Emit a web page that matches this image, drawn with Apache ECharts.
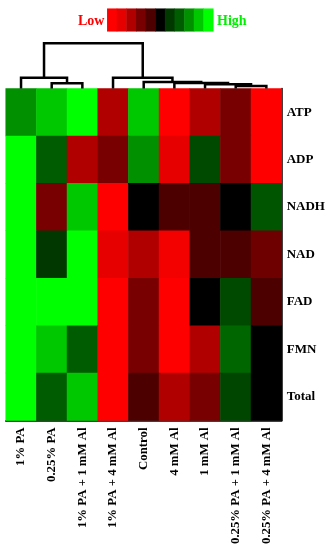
<!DOCTYPE html>
<html>
<head>
<meta charset="utf-8">
<script src="https://cdn.jsdelivr.net/npm/echarts@6/dist/echarts.min.js"></script>
<style>
  html, body { margin: 0; padding: 0; background: #fff; }
  #chart { width: 332px; height: 550px; }
</style>
</head>
<body>
<div id="chart"></div>
<script>
  const groups = ['1% PA', '0.25% PA', '1% PA + 1 mM Al', '1% PA + 4 mM Al', 'Control',
    '4 mM Al', '1 mM Al', '0.25% PA + 1 mM Al', '0.25% PA + 4 mM Al'];
  const metabolites = ['ATP', 'ADP', 'NADH', 'NAD', 'FAD', 'FMN', 'Total'];

  // relative level, -5 (low, red) .. 5 (high, green), same order as groups
  const atp   = [3, 4, 5, -3, 4, -5, -3, -2, -5];
  const adp   = [5, 2, -3, -2, 3, -4, 1.5, -2, -5];
  const nadh  = [5, -2, 4, -5, 0, -1, -1, 0, 1.8];
  const nad   = [5, 1, 5, -4, -3, -4.5, -1, -1, -1.8];
  const fad   = [5, 5, 5, -5, -2, -5, 0, 1.5, -1];
  const fmn   = [5, 4, 2, -5, -2, -5, -3, 2.2, 0];
  const total = [5, 2, 4, -5, -1, -3, -2, 1.4, 0];

  const scaleSteps = [-5, -4, -3, -2, -1, 0, 1, 2, 3, 4, 5];
  const scaleColors = ['#ff0000', '#e60000', '#b00000', '#780000', '#4c0000', '#000000',
    '#003800', '#005c00', '#009000', '#00c800', '#00ff00'];

  // column clustering: [childA, childB, height]; leaves are 0..8, merged clusters numbered from 9
  const merges = [[7, 8, 0.55], [6, 9, 0.93], [5, 10, 1.22], [4, 11, 1.44],
    [3, 12, 2.39], [1, 2, 1.15], [0, 14, 2.39], [15, 13, 10]];

  const rows = [atp, adp, nadh, nad, fad, fmn, total];
  let heatData = [];
  for (let r = 0; r < rows.length; r++) {
    for (let c = 0; c < groups.length; c++) {
      heatData.push([c, r, rows[r][c]]);
    }
  }
  let scaleData = scaleSteps.map((v, i) => [i, 0, v]);

  let nodes = groups.map((g, i) => ({x: i + 0.5, h: 0}));
  let links = [];
  merges.forEach(m => {
    const a = nodes[m[0]], b = nodes[m[1]];
    links.push([a.x, a.h, b.x, b.h, m[2]]);
    nodes.push({x: (a.x + b.x) / 2, h: m[2]});
  });

  const font = 'Liberation Serif, Times New Roman, serif';
  const myChart = echarts.init(document.getElementById('chart'));

  let option = {
    backgroundColor: '#fff',
    animation: false,
    grid: [
      {left: 5.7, top: 88.5, width: 276, height: 332},
      {left: 107.3, top: 8.7, width: 106, height: 22.6},
      {left: 5.7, top: 43.3, width: 276, height: 45.2}
    ],
    xAxis: [
      {
        type: 'category',
        data: groups,
        position: 'bottom',
        axisLine: {lineStyle: {color: '#000', width: 1.5}},
        axisTick: {length: 3, lineStyle: {color: '#000', width: 1.5}},
        axisLabel: {rotate: 90, margin: 7, color: '#000', fontSize: 12.8, fontWeight: 'bold', fontFamily: font},
        splitLine: {show: false}
      },
      {gridIndex: 1, type: 'category', data: scaleSteps, show: false},
      {gridIndex: 2, type: 'value', min: 0, max: 9, show: false}
    ],
    yAxis: [
      {
        type: 'category',
        data: metabolites,
        inverse: true,
        position: 'right',
        axisLine: {lineStyle: {color: '#000', width: 1.5}},
        axisTick: {length: 3, lineStyle: {color: '#000', width: 1.5}},
        axisLabel: {margin: 5, color: '#000', fontSize: 13, fontWeight: 'bold', fontFamily: font},
        splitLine: {show: false}
      },
      {gridIndex: 1, type: 'category', data: [''], show: false},
      {gridIndex: 2, type: 'value', min: 0, max: 10, show: false}
    ],
    visualMap: {
      show: false,
      type: 'continuous',
      min: -5,
      max: 5,
      seriesIndex: [0, 1],
      inRange: {color: scaleColors}
    },
    graphic: [
      {type: 'text', left: 78, top: 14, style: {text: 'Low', fill: '#ff0000', font: 'bold 14px ' + font}},
      {type: 'text', left: 217, top: 14, style: {text: 'High', fill: '#00ee00', font: 'bold 14px ' + font}}
    ],
    series: [
      {
        type: 'heatmap',
        data: heatData,
        itemStyle: {borderWidth: 0}
      },
      {
        type: 'heatmap',
        xAxisIndex: 1,
        yAxisIndex: 1,
        data: scaleData,
        itemStyle: {borderWidth: 0}
      },
      {
        type: 'custom',
        xAxisIndex: 2,
        yAxisIndex: 2,
        data: links,
        encode: {x: [0, 2], y: [1, 3, 4]},
        renderItem: function (params, api) {
          const p1 = api.coord([api.value(0), api.value(1)]);
          const p2 = api.coord([api.value(0), api.value(4)]);
          const p3 = api.coord([api.value(2), api.value(4)]);
          const p4 = api.coord([api.value(2), api.value(3)]);
          return {
            type: 'polyline',
            shape: {points: [p1, p2, p3, p4]},
            style: {stroke: '#000', lineWidth: 2.5, fill: null}
          };
        }
      }
    ]
  };

  myChart.setOption(option);
  window.addEventListener('resize', function () {
    myChart.resize();
  });
</script>
</body>
</html>
